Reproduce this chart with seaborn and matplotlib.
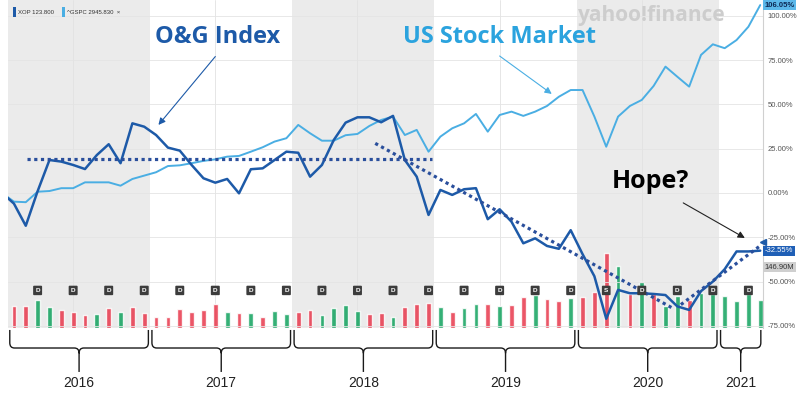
import numpy as np
import pandas as pd
import matplotlib
matplotlib.use("Agg")
import matplotlib.pyplot as plt
from matplotlib.path import Path
from matplotlib.patches import PathPatch, Rectangle
import seaborn as sns

sns.set_style("white")
plt.rcParams["font.family"] = ["Liberation Sans", "DejaVu Sans"]

# month index: -1 = Dec 2015 (base), 0 = Jan 2016 ... 63 = Apr 2021
months = list(range(-1, 64))
xop_pct = [0, -6, -18.5, 1, 18.6, 17.7, 15.8, 13.5, 21.4, 27.5, 16.8, 39.3, 37.4,
           32.7, 25.6, 23.9, 15.8, 8.3, 5.8, 7.9, -0.2, 13.4, 13.9, 18.6, 23.3,
           22.7, 9.2, 15.8, 29.9, 39.7, 42.7, 42.7, 39.9, 43.5, 18.6, 9.2, -12.4,
           1.7, -1.1, 2.1, 2.7, -14.8, -9.2, -16.2, -28.4, -25.6, -29.9, -31.5, -21,
           -34.5, -47, -71, -54.7, -56.6, -56.6, -57, -57.6, -64, -66, -55.4, -50,
           -43, -33, -33, -32.55]
gspc_pct = [0, -4.9, -5.2, 0.7, 1.1, 2.7, 2.7, 6, 6, 6, 4.1, 7.9, 9.8,
            11.7, 15.2, 15.6, 16.8, 18.1, 19, 20.5, 20.9, 23.3, 25.8, 29, 30.9,
            38.4, 33.7, 29.5, 29.5, 32.6, 33.3, 37.8, 41.2, 43.1, 32.7, 35.6, 23.3,
            31.8, 36.5, 39.3, 44.6, 34.6, 44, 45.9, 43.5, 45.9, 49.1, 54.3, 58.1,
            58.1, 43.1, 26.1, 43.1, 49.1, 52.5, 60.4, 71.3, 65.6, 60, 77.9, 83.9,
            81.7, 86.3, 93.8, 106.05]

# monthly XOP volume (millions), Jan 2016 .. Apr 2021
vol_m = [113, 116, 147, 109, 92, 83, 66, 74, 104, 83, 109, 78,
         56, 56, 97, 83, 92, 125, 81, 78, 78, 56, 87, 73,
         83, 95, 69, 104, 121, 90, 73, 78, 56, 107, 125, 130,
         111, 83, 104, 125, 125, 116, 121, 162, 173, 152, 139, 156,
         161, 187, 389, 323, 176, 239, 176, 113, 165, 147, 182, 176,
         168, 142, 176, 147]
vol_dir = list("dduudddudud" "d" "ddddddudud" "uu" "dduuuuddudd" "d"
               "uduudud" "dudd" "u" "dddududuud" "uu" "uuuu")

years = ["2016", "2017", "2018", "2019", "2020", "2021"]
year_start = [-0.5, 11.5, 23.5, 35.5, 47.5, 59.5]
year_end = [11.5, 23.5, 35.5, 47.5, 59.5, 63.2]
shaded_years = [0, 2, 4]

event_months = [2, 5, 8, 11, 14, 17, 20, 23, 26, 29, 32, 35, 38, 41, 44, 47,
                50, 53, 56, 59, 62]
event_labels = ["D"] * 16 + ["S"] + ["D"] * 4

pct_ticks = [-75, -50, -25, 0, 25, 50, 75, 100]

flat_trend_x, flat_trend_y = [1.1, 35.3], [18.9, 18.9]
down_trend_x, down_trend_y = [30.5, 55.6], [28, -65]
up_trend_x, up_trend_y = [56.3, 62.9], [-63, -30.3]

dark_blue = "#1d5aa8"
light_blue = "#4aaee3"
trend_blue = "#2a4f9c"
red = "#e8384c"
green = "#12a35e"

fig = plt.figure(figsize=(8, 3.93), dpi=100)
ax = fig.add_axes([0.01, 0.1654, 0.944, 0.8346])
axv = ax.twinx()
axv.set_zorder(0)
ax.set_zorder(1)
ax.patch.set_visible(False)

# background bands + vertical grid on the volume axes (drawn underneath)
for k in shaded_years:
    axv.axvspan(year_start[k], year_end[k], color="#ebebeb", lw=0, zorder=0)
for k in range(5):
    axv.axvline(year_start[k] + 5.5, color="#e2e2e2", lw=0.6, zorder=0.5)

vol_df = pd.DataFrame({"month": np.arange(64), "volume": vol_m, "dir": vol_dir})
sns.barplot(data=vol_df, x="month", y="volume", hue="dir", native_scale=True,
            palette={"u": green, "d": red}, dodge=False, width=0.4,
            errorbar=None, legend=False, saturation=1, alpha=0.85, ax=axv)
axv.set_ylim(0, 1700)
axv.set_yticks([])
axv.set_ylabel("")
axv.set_xlabel("")
for s in axv.spines.values():
    s.set_visible(False)

# price lines
for y in pct_ticks:
    ax.axhline(y, color="#e4e4e4", lw=0.6, zorder=0.5)
line_df = pd.DataFrame({"month": months, "XOP": xop_pct, "GSPC": gspc_pct})
sns.lineplot(data=line_df, x="month", y="GSPC", color=light_blue, lw=1.4,
             estimator=None, ax=ax, zorder=3)
sns.lineplot(data=line_df, x="month", y="XOP", color=dark_blue, lw=1.8,
             estimator=None, ax=ax, zorder=4)

for tx, ty in [(flat_trend_x, flat_trend_y), (down_trend_x, down_trend_y),
               (up_trend_x, up_trend_y)]:
    ax.plot(tx, ty, color=trend_blue, lw=2.3, linestyle=(0, (1, 1.1)), zorder=5)

for m, lab in zip(event_months, event_labels):
    ax.text(m, -55, lab, fontsize=4.6, color="white", ha="center", va="center",
            weight="bold", zorder=6,
            bbox=dict(boxstyle="round,pad=0.35,rounding_size=0.15",
                      fc="#3c3c3c", ec="none"))

ax.set_xlim(-0.5, 63.25)
ax.set_ylim(-76.2, 108.9)
ax.set_xticks([])
ax.set_xlabel("")
ax.set_ylabel("")
ax.yaxis.tick_right()
ax.set_yticks(pct_ticks)
ax.set_yticklabels([f"{t:.2f}%" for t in pct_ticks])
ax.tick_params(axis="y", length=0, pad=3, labelsize=5.5, labelcolor="#555555")
for side in ["top", "left", "bottom"]:
    ax.spines[side].set_visible(False)
ax.spines["right"].set_color("#d0d0d0")
ax.spines["right"].set_linewidth(0.8)
axv.set_xlim(-0.5, 63.25)

# last-value tags
yt = ax.get_yaxis_transform()
ax.text(1.002, gspc_pct[-1], f"{gspc_pct[-1]:.2f}%", transform=yt, fontsize=5.5,
        color="#0d2a55", weight="bold", ha="left", va="center",
        bbox=dict(boxstyle="square,pad=0.2", fc="#5bb8ea", ec="none"))
ax.text(1.002, xop_pct[-1], f"{xop_pct[-1]:.2f}%", transform=yt, fontsize=5.5,
        color="white", ha="left", va="center",
        bbox=dict(boxstyle="square,pad=0.2", fc="#1f5fb6", ec="none"))
ax.text(1.002, -41.8, "146.90M", transform=yt, fontsize=5.5,
        color="#333333", ha="left", va="center",
        bbox=dict(boxstyle="square,pad=0.2", fc="#cfcfcf", ec="none"))
ax.plot([63.2], [-27.5], marker="<", ms=5, color=dark_blue, clip_on=False, zorder=7)

# annotations
ann_font = ["Open Sans", "DejaVu Sans"]
ax.text(17.2, 88, "O&G Index", ha="center", va="center", fontsize=17,
        weight="bold", color=dark_blue, family=ann_font, zorder=8)
ax.annotate("", xy=(12.2, 38.4), xytext=(17.0, 77),
            arrowprops=dict(arrowstyle="-|>", color=dark_blue, lw=0.8,
                            mutation_scale=10, shrinkA=0, shrinkB=0))
ax.text(41.0, 88, "US Stock Market", ha="center", va="center", fontsize=17,
        weight="bold", color="#2ba3de", family=ann_font, zorder=8)
ax.annotate("", xy=(45.4, 55.9), xytext=(41.0, 77.3),
            arrowprops=dict(arrowstyle="-|>", color=light_blue, lw=0.8,
                            mutation_scale=10, shrinkA=0, shrinkB=0))
ax.text(53.7, 6.2, "Hope?", ha="center", va="center", fontsize=18,
        weight="bold", color="black", family=ann_font, zorder=8)
ax.annotate("", xy=(61.7, -25.4), xytext=(56.5, -5.6),
            arrowprops=dict(arrowstyle="-|>", color="#222222", lw=0.8,
                            mutation_scale=10, shrinkA=0, shrinkB=0))

# year braces below the chart
xt = ax.get_xaxis_transform()


def brace(x0, x1, rx=0.4, y_top=-0.006, y_mid=-0.061, y_tip=-0.134, ry=0.016):
    xc = (x0 + x1) / 2
    verts = [(x0, y_top), (x0, y_mid + ry), (x0, y_mid), (x0 + rx, y_mid),
             (xc - rx, y_mid), (xc, y_mid), (xc, y_mid - ry), (xc, y_tip),
             (x1, y_top), (x1, y_mid + ry), (x1, y_mid), (x1 - rx, y_mid),
             (xc + rx, y_mid), (xc, y_mid), (xc, y_mid - ry)]
    codes = [Path.MOVETO, Path.LINETO, Path.CURVE3, Path.CURVE3, Path.LINETO,
             Path.CURVE3, Path.CURVE3, Path.LINETO,
             Path.MOVETO, Path.LINETO, Path.CURVE3, Path.CURVE3, Path.LINETO,
             Path.CURVE3, Path.CURVE3]
    ax.add_patch(PathPatch(Path(verts, codes), transform=xt, fc="none",
                           ec="#1a1a1a", lw=1.0, clip_on=False))
    return xc


for yr, x0, x1 in zip(years, year_start, year_end):
    xc = brace(x0 + 0.15, x1 - 0.15)
    ax.text(xc, -0.168, yr, transform=xt, ha="center", va="center",
            fontsize=10, color="#222222")

# header legend + watermark
fig.patches.append(Rectangle((13 / 800, 1 - 17 / 393), 2.5 / 800, 10 / 393,
                             transform=fig.transFigure, fc=dark_blue, ec="none"))
fig.text(18 / 800, 1 - 12 / 393, "XOP 123.800", fontsize=4.3, color="#333333",
         va="center", ha="left")
fig.patches.append(Rectangle((62 / 800, 1 - 17 / 393), 2.5 / 800, 10 / 393,
                             transform=fig.transFigure, fc=light_blue, ec="none"))
fig.text(67 / 800, 1 - 12 / 393, "^GSPC 2945.830  \u00d7", fontsize=4.3,
         color="#333333", va="center", ha="left")
fig.text(652 / 800, 1 - 16 / 393, "yahoo!finance", fontsize=15, weight="bold",
         color="#cdcdcd", ha="center", va="center", family=ann_font)

fig.savefig("out.png", dpi=100)
